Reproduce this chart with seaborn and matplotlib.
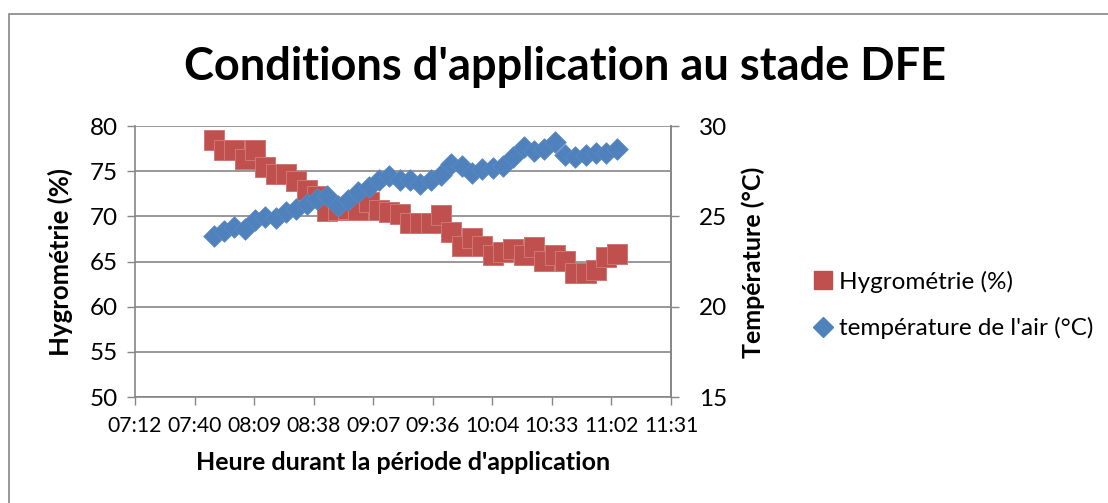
import matplotlib
matplotlib.use("Agg")
import matplotlib.pyplot as plt
from matplotlib.lines import Line2D
from matplotlib.patches import Rectangle
import seaborn as sns
import pandas as pd

# Relevés de terrain (pas de 5 minutes)
heures = [
    "07:50", "07:55", "08:00", "08:05", "08:10", "08:15", "08:20", "08:25",
    "08:30", "08:35", "08:40", "08:45", "08:50", "08:55", "09:00", "09:05",
    "09:10", "09:15", "09:20", "09:25", "09:30", "09:35", "09:40", "09:45",
    "09:50", "09:55", "10:00", "10:05", "10:10", "10:15", "10:20", "10:25",
    "10:30", "10:35", "10:40", "10:45", "10:50", "10:55", "11:00", "11:05",
]
hygrometrie = [
    78.4, 77.3, 77.3, 76.3, 77.3, 75.5, 74.7, 74.7, 73.9, 72.9,
    72.3, 70.6, 70.7, 70.8, 70.7, 71.6, 70.7, 70.5, 70.3, 69.3,
    69.3, 69.3, 70.1, 68.3, 66.7, 67.6, 66.7, 65.7, 66.1, 66.4,
    65.7, 66.6, 65.1, 65.7, 65.1, 63.7, 63.7, 64.1, 65.5, 65.8,
]
temperature = [
    23.9, 24.2, 24.4, 24.3, 24.8, 24.95, 24.9, 25.25, 25.4, 25.7,
    25.95, 26.15, 25.55, 25.9, 26.35, 26.65, 27.0, 27.25, 27.0, 27.0,
    26.8, 27.0, 27.3, 27.9, 27.8, 27.4, 27.6, 27.65, 27.8, 28.3,
    28.85, 28.6, 28.75, 29.1, 28.4, 28.3, 28.4, 28.5, 28.5, 28.75,
]
x_ticklabels = ["07:12", "07:40", "08:09", "08:38", "09:07",
                "09:36", "10:04", "10:33", "11:02", "11:31"]

def to_minutes(hhmm):
    h, m = hhmm.split(":")
    return int(h) * 60 + int(m)

df = pd.DataFrame({
    "minutes": [to_minutes(h) for h in heures],
    "hygrometrie": hygrometrie,
    "temperature": temperature,
})

RED = "#C0504D"
BLUE = "#4F81BD"
GRID = "#868686"
W, H = 1108, 503

sns.set_theme(style="white")
plt.rcParams["font.family"] = ["Lato", "DejaVu Sans"]
plt.rcParams["text.color"] = "black"
plt.rcParams["xtick.color"] = "black"
plt.rcParams["ytick.color"] = "black"
plt.rcParams["xtick.labelcolor"] = "black"
plt.rcParams["ytick.labelcolor"] = "black"

fig = plt.figure(figsize=(W / 100, H / 100), dpi=100)
fig.patch.set_facecolor("white")
ax = fig.add_axes([135 / W, 1 - 397 / H, 536 / W, 271 / H])

# Axe temporel : de 07:12 à 11:31 par pas de 28,8 min (0,02 jour)
x0, step = 432.0, 28.8
ax.set_xlim(x0, x0 + 9 * step)
ax.set_xticks([x0 + i * step for i in range(10)])
ax.set_xticklabels(x_ticklabels, fontsize=15.2)

ax.set_ylim(50, 80)
ax.set_yticks(range(50, 81, 5))
ax.tick_params(axis="y", labelsize=17.5, length=6, width=1, color=GRID,
               labelcolor="black", direction="out", pad=6, left=True)
ax.tick_params(axis="x", length=6, width=1, color=GRID, labelcolor="black",
               direction="out", pad=8, bottom=True)
ax.yaxis.grid(True, color=GRID, linewidth=1.2)
ax.set_axisbelow(True)
ax.spines["top"].set_visible(False)
for side in ["left", "bottom", "right"]:
    ax.spines[side].set_color(GRID)
    ax.spines[side].set_linewidth(1.2)

sns.scatterplot(data=df, x="minutes", y="hygrometrie", ax=ax, marker="s",
                s=200, color=RED, edgecolor="#D07774", linewidth=0.7,
                legend=False, zorder=3)

ax2 = ax.twinx()
ax2.set_ylim(15, 30)
ax2.set_yticks(range(15, 31, 5))
ax2.tick_params(axis="y", labelsize=17.5, length=6, width=1, color=GRID,
                labelcolor="black", direction="out", pad=14, right=True)
for side in ["top", "left", "bottom"]:
    ax2.spines[side].set_visible(False)
ax2.spines["right"].set_color(GRID)
ax2.spines["right"].set_linewidth(1.2)
sns.scatterplot(data=df, x="minutes", y="temperature", ax=ax2, marker="D",
                s=120, color=BLUE, edgecolor="#5B8AC2", linewidth=0.6,
                legend=False, zorder=4)

ax.set_xlabel("")
ax.set_ylabel("")
ax2.set_ylabel("")

def fx(px):
    return px / W

def fy(py):
    return 1 - py / H

fig.text(fx(565), fy(67), "Conditions d'application au stade DFE",
         ha="center", va="center", fontsize=32.5, fontweight="bold")
fig.text(fx(60), fy(262), "Hygrométrie (%)", ha="center", va="center",
         rotation=90, fontsize=18.5, fontweight="bold")
fig.text(fx(753), fy(262), "Température (°C)", ha="center", va="center",
         rotation=90, fontsize=18, fontweight="bold")
fig.text(fx(403), fy(462), "Heure durant la période d'application",
         ha="center", va="center", fontsize=18, fontweight="bold")

handles = [
    Line2D([], [], marker="s", linestyle="", color=RED, markersize=13),
    Line2D([], [], marker="D", linestyle="", color=BLUE, markersize=10),
]
fig.legend(handles, ["Hygrométrie (%)", "température de l'air (°C)"],
           loc="center left", bbox_to_anchor=(fx(805), fy(305)),
           frameon=False, fontsize=17.5, handlelength=0.7, handletextpad=0.3,
           labelspacing=1.0, borderaxespad=0)

# Cadre de la zone de graphique
fig.patches.append(Rectangle((fx(9), -0.1), 1.2, fy(14) + 0.1,
                             transform=fig.transFigure, fill=False,
                             edgecolor=GRID, linewidth=1.2))

fig.savefig("out.png", dpi=100)
